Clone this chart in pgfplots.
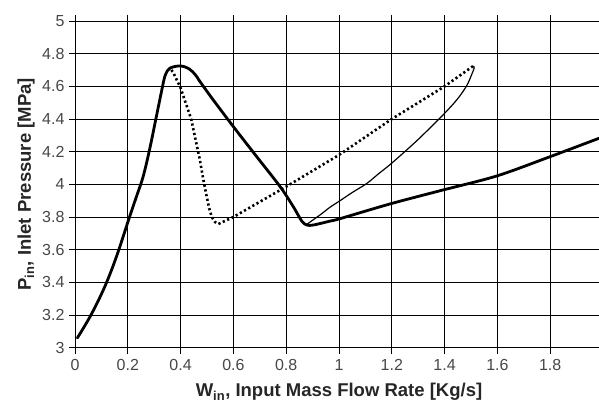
\documentclass[border=0pt]{standalone}
\usepackage{pgfplots}
\pgfplotsset{compat=1.18}
\usepackage{fontspec}
\setmainfont{Liberation Sans}
\begin{document}
\begin{tikzpicture}
\begin{axis}[
  scale only axis,
  width=528pt, height=326.7pt,
  xmin=0, xmax=2, ymin=3, ymax=5,
  xtick={0,0.2,...,2.01}, ytick={3,3.2,...,5.01},
  xticklabels={0,0.2,0.4,0.6,0.8,1,1.2,1.4,1.6,1.8,2},
  yticklabels={3,3.2,3.4,3.6,3.8,4,4.2,4.4,4.6,4.8,5},
  grid=major,
  grid style={black, line width=0.8pt},
  axis line style={black, line width=0.8pt},
  tick style={black, line width=0.8pt},
  tick align=outside,
  major tick length=6pt,
  tick label style={font=\fontsize{16}{18}\selectfont, text=black!72},
  xticklabel style={yshift=-2pt},
  yticklabel style={xshift=-1pt},
  xlabel={\textbf{W\textsubscript{in}, Input Mass Flow Rate [Kg/s]}},
  ylabel={\textbf{P\textsubscript{in}, Inlet Pressure [MPa]}},
  label style={font=\fontsize{18.5}{22}\selectfont, text=black!85},
  xlabel style={at={(rel axis cs:0.5,0)}, anchor=base, yshift=-49pt},
  ylabel style={at={(rel axis cs:0,0.5)}, anchor=center, yshift=49pt},
  clip=true,
]
\coordinate (tl) at (axis cs:0,5);
% thick solid curve
\addplot[black, line width=2.8pt, line join=round, line cap=round, smooth, tension=0.5] coordinates {
(0.009,3.06) (0.03,3.115) (0.057,3.19) (0.085,3.277) (0.114,3.378)
(0.14,3.482) (0.164,3.59) (0.185,3.693) (0.202,3.778)
(0.23,3.912) (0.253,4.02) (0.265,4.09) (0.278,4.18) (0.29,4.27) (0.3,4.35)
(0.312,4.445) (0.324,4.54) (0.333,4.61) (0.34,4.66) (0.35,4.695) (0.36,4.712)
(0.38,4.722) (0.40,4.725) (0.415,4.72) (0.429,4.71) (0.445,4.69)
(0.461,4.66) (0.473,4.63) (0.524,4.516) (0.6,4.353) (0.688,4.17)
(0.777,3.986) (0.827,3.863) (0.859,3.775) (0.878,3.751) (0.903,3.751)
(0.966,3.775) (1.004,3.79) (1.193,3.88) (1.383,3.961) (1.597,4.051)
(1.799,4.169) (1.985,4.282) (2.0,4.29)
};
% thin solid curve
\addplot[black, line width=1.2pt, line join=round, smooth, tension=0.5] coordinates {
(0.878,3.755) (0.93,3.815) (0.966,3.86) (1.004,3.9) (1.05,3.95) (1.105,4.005)
(1.15,4.065) (1.2,4.13) (1.3,4.275) (1.4,4.435) (1.45,4.525) (1.484,4.605)
(1.502,4.67) (1.512,4.712) (1.509,4.725)
};
% dotted curve
\addplot[black, line width=2.6pt, dash pattern=on 2.2pt off 2.6pt] coordinates {
(0.365,4.70) (0.372,4.685) (0.40,4.59) (0.44,4.40) (0.473,4.15)
(0.486,4.03) (0.499,3.925) (0.508,3.855) (0.518,3.80) (0.53,3.77)
(0.543,3.757) (0.6,3.80) (0.8,3.986) (1.0,4.18) (1.2,4.40)
(1.4,4.60) (1.509,4.725)
};
\end{axis}
\pgfresetboundingbox
\path ([shift={(-75pt,-382pt)}]tl) rectangle ([shift={(524pt,21pt)}]tl);
\end{tikzpicture}
\end{document}
